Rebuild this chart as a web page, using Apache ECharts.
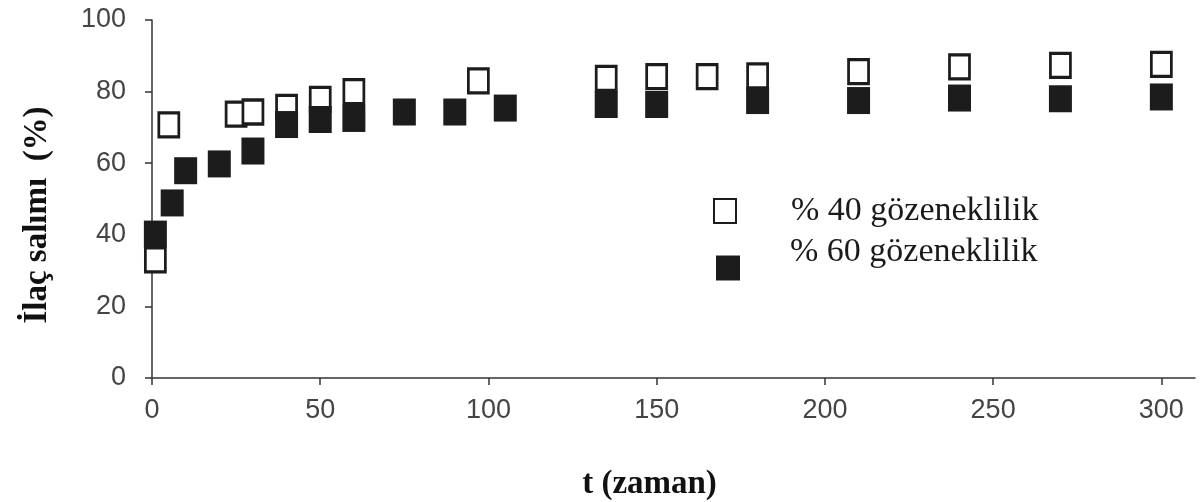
<!DOCTYPE html>
<html><head><meta charset="utf-8">
<script src="https://cdn.jsdelivr.net/npm/echarts@6/dist/echarts.min.js"></script>
<style>html,body{margin:0;padding:0;background:#fff}#c{width:1200px;height:502px}</style>
</head><body><div id="c"></div>
<script>
var seriesNames = ['% 40 gözeneklilik', '% 60 gözeneklilik'];
var time40 = [1, 5, 25, 30, 40, 50, 60, 97, 135, 150, 165, 180, 210, 240, 270, 300];
var release40 = [33, 70.7, 73.7, 74.3, 75.6, 77.8, 80, 83, 83.7, 84.2, 84.2, 84.4, 85.6, 86.9, 87.3, 87.6];
var time60 = [1, 6, 10, 20, 30, 40, 50, 60, 75, 90, 105, 135, 150, 180, 210, 240, 270, 300];
var release60 = [40.2, 48.9, 57.9, 59.8, 63.4, 70.8, 72.2, 72.5, 74.3, 74.3, 75.4, 76.4, 76.4, 77.5, 77.5, 78.2, 78, 78.5];
var xTicks = [0, 50, 100, 150, 200, 250, 300];
var yTicks = [0, 20, 40, 60, 80, 100];

function pairs(xs, ys){ return xs.map(function(x,i){ return [x, ys[i]]; }); }

var chart = echarts.init(document.getElementById('c'), null, {renderer:'canvas'});
var axisCol = '#333';
var lblCol = '#444';
chart.setOption({
  animation:false,
  backgroundColor:'#fff',
  grid:{left:152, right:5, top:20, bottom:124, containLabel:false, outerBoundsMode:'none'},
  xAxis:{
    type:'value', min:0, max:310,
    name:'t (zaman)', nameLocation:'middle', nameGap:90,
    nameTextStyle:{fontFamily:'Liberation Serif', fontWeight:'bold', fontSize:33, color:'#111', padding:[0,48,0,0]},
    axisLine:{onZero:false, lineStyle:{color:axisCol, width:1.5}},
    axisTick:{show:true, length:7, customValues:xTicks, lineStyle:{color:axisCol, width:1.5}},
    axisLabel:{customValues:xTicks, margin:19, fontFamily:'Liberation Sans', fontSize:27, color:lblCol},
    splitLine:{show:false}
  },
  yAxis:{
    type:'value', min:0, max:100, interval:20,
    name:'İlaç salımı  (%)', nameLocation:'middle', nameGap:98, nameRotate:90,
    nameTextStyle:{fontFamily:'Liberation Serif', fontWeight:'bold', fontSize:33, color:'#111', padding:[0,32,0,0]},
    axisLine:{show:true, lineStyle:{color:axisCol, width:1.5}},
    axisTick:{show:true, length:7, lineStyle:{color:axisCol, width:1.5}},
    axisLabel:{margin:26, fontFamily:'Liberation Sans', fontSize:27, color:lblCol},
    splitLine:{show:false}
  },
  legend:[{
    data:[seriesNames[0]], orient:'vertical', left:713, top:194, padding:0,
    itemWidth:22, itemHeight:24, icon:'rect',
    textStyle:{fontFamily:'Liberation Serif', fontSize:34, color:'#1a1a1a', padding:[0,0,0,50]}
  },{
    data:[seriesNames[1]], orient:'vertical', left:716, top:235, padding:0,
    itemWidth:24, itemHeight:25, icon:'rect',
    formatter:function(n){ return n + '\n '; },
    textStyle:{fontFamily:'Liberation Serif', fontSize:34, lineHeight:32, color:'#1a1a1a', padding:[0,0,0,45]}
  }],
  series:[{
    name:seriesNames[0], type:'scatter', symbol:'rect', symbolSize:[20,24],
    itemStyle:{color:'#fff', borderColor:'#1c1c1c', borderWidth:3, opacity:1},
    data:pairs(time40, release40), z:2
  },{
    name:seriesNames[1], type:'scatter', symbol:'rect', symbolSize:[23,27],
    itemStyle:{color:'#1c1c1c', opacity:1},
    data:pairs(time60, release60), z:3
  }]
});
</script></body></html>
